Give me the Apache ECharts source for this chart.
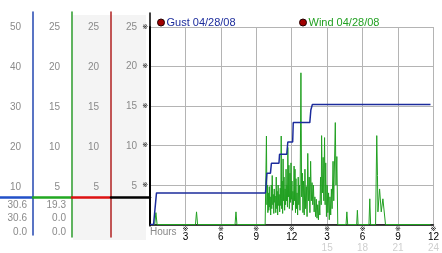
<!DOCTYPE html>
<html><head><meta charset="utf-8">
<script src="https://cdn.jsdelivr.net/npm/echarts@6/dist/echarts.min.js"></script>
<style>html,body{margin:0;padding:0;background:#fff}#c{width:442px;height:253px}</style>
</head><body><div id="c"></div>
<script>
// ---------- data ----------
const gustName = 'Gust 04/28/08';
const windName = 'Wind 04/28/08';
// [hour, mph]
const gust = [[0,0],[0.3,0],[0.55,4.0],[9.78,4.0],[9.85,5.5],[9.9,6.5],[10.2,6.5],[10.28,7.75],[10.92,7.75],[10.97,8.9],[11.58,8.9],[11.67,10.45],[12.08,10.45],[12.13,12.9],[13.53,12.9],[13.62,14.5],[13.75,15.2],[23.75,15.2]];
const wind = [[0,0],[0.4,0],[0.5,1.5],[0.6,0],[3.85,0],[3.94,1.6],[4.03,0],[7.2,0],[7.28,1.6],[7.36,0],
[9.75,0],[9.8,0],[9.86,11.2],[9.9,2.5],[9.94,5.0],[9.98,1.5],[10.02,4.0],[10.06,1.8],[10.1,4.8],[10.14,2.2],[10.18,3.5],[10.22,1.2],[10.27,5.0],[10.31,2.0],[10.35,6.2],[10.4,2.5],[10.44,3.8],[10.48,1.4],[10.52,4.5],[10.56,2.8],[10.6,3.6],[10.65,1.5],[10.69,6.0],[10.73,2.0],[10.77,4.2],[10.81,1.2],[10.85,5.0],[10.9,2.4],[10.94,3.8],[10.98,1.6],[11.03,4.6],[11.07,2.4],[11.11,11.2],[11.15,2.0],[11.19,5.5],[11.23,1.4],[11.27,8.3],[11.31,3.0],[11.35,6.0],[11.4,1.8],[11.44,4.5],[11.48,2.5],[11.52,7.0],[11.56,3.0],[11.6,5.0],[11.64,2.2],[11.67,9.75],[11.72,3.5],[11.76,7.5],[11.8,2.0],[11.85,6.5],[11.9,2.8],[11.94,7.8],[11.98,3.2],[12.02,5.5],[12.06,1.8],[12.1,4.2],[12.15,2.5],[12.2,7.4],[12.24,3.0],[12.28,7.0],[12.32,1.5],[12.36,5.8],[12.4,2.0],[12.45,4.0],[12.5,1.2],[12.55,6.0],[12.6,2.5],[12.65,5.0],[12.7,1.8],[12.78,19.2],[12.84,3.5],[12.9,6.5],[12.95,1.5],[13.0,5.5],[13.06,1.2],[13.12,7.0],[13.18,2.0],[13.24,4.8],[13.3,1.0],[13.36,9.0],[13.42,3.0],[13.48,6.0],[13.54,1.5],[13.6,8.0],[13.66,3.0],[13.72,5.3],[13.78,2.5],[13.84,5.0],[13.9,1.6],[13.96,3.5],[14.02,1.0],[14.08,3.2],[14.14,0.8],[14.2,2.5],[14.26,0.6],[14.32,3.0],[14.38,1.2],[14.44,6.0],[14.5,2.5],[14.53,11.25],[14.6,4.0],[14.66,8.5],[14.72,3.0],[14.78,11.0],[14.83,2.5],[14.88,7.8],[14.94,1.0],[15.0,5.0],[15.06,1.5],[15.12,4.0],[15.18,0.6],[15.24,3.5],[15.3,1.2],[15.36,4.5],[15.42,2.0],[15.5,8.0],[15.56,3.0],[15.69,12.9],[15.75,5.0],[15.82,8.6],[15.9,0],
[16.6,0],[16.67,1.6],[16.74,0],[17.5,0],[17.56,1.8],[17.62,0],[18.54,0],[18.61,3.25],[18.68,0],[19.1,0],[19.2,11.25],[19.26,6.2],[19.3,1.6],[19.44,4.5],[19.58,1.6],[19.72,3.25],[19.86,3.25],[19.94,0],[23.75,0]];
const xTopLabels = ['', '3', '6', '9', '12', '3', '6', '9', '12'];
const xBottomLabels = ['', '', '', '', '', '15', '18', '21', '24'];
const col1Ticks = [10, 20, 30, 40, 50];
const colTicks = [5, 10, 15, 20, 25];
const stat1 = ['30.6', '30.6', '0.0'];
const stat2 = ['19.3', '0.0', '0.0'];

// ---------- chart ----------
const FONT = 'Liberation Sans, Arial, sans-serif';
const chart = echarts.init(document.getElementById('c'), null, {renderer: 'canvas'});

function colAxis(gridIndex, color, ticks, min, max, margin) {
  return {
    gridIndex, type: 'value', position: 'right', min, max,
    axisLine: {show: true, onZero: false, lineStyle: {color, width: 1.5}},
    axisTick: {show: false}, splitLine: {show: false},
    axisLabel: {show: true, inside: true, margin, customValues: ticks,
      color: '#8a8a8a', fontSize: 10, fontFamily: FONT}
  };
}
function sepAxis(gridIndex, color, offset) {
  return {
    gridIndex, type: 'value', min: 0, max: 1, position: 'bottom', offset,
    axisLine: {show: true, onZero: false, lineStyle: {color, width: 2.5}},
    axisTick: {show: false}, axisLabel: {show: false}, splitLine: {show: false}
  };
}

const statText = [];
stat1.forEach((t, i) => statText.push({type: 'text', x: 27, y: 205 + i * 13.7,
  style: {text: t, align: 'right', verticalAlign: 'middle', fill: '#8a8a8a', font: '10px ' + FONT}}));
stat2.forEach((t, i) => statText.push({type: 'text', x: 66, y: 205 + i * 13.7,
  style: {text: t, align: 'right', verticalAlign: 'middle', fill: '#8a8a8a', font: '10px ' + FONT}}));

const option = {
  animation: false,
  backgroundColor: '#fff',
  legend: [
    {left: 152, top: 12, icon: 'circle', itemWidth: 7, itemHeight: 7, selectedMode: false,
     data: [{name: gustName, itemStyle: {color: '#a00000', borderColor: '#200', borderWidth: 1},
             textStyle: {color: '#1c2c9c'}}],
     textStyle: {fontSize: 11, fontFamily: FONT, padding: [0, 0, 0, -3]}},
    {left: 294, top: 12, icon: 'circle', itemWidth: 7, itemHeight: 7, selectedMode: false,
     data: [{name: windName, itemStyle: {color: '#a00000', borderColor: '#200', borderWidth: 1},
             textStyle: {color: '#22a022'}}],
     textStyle: {fontSize: 11, fontFamily: FONT, padding: [0, 0, 0, -3]}}
  ],
  grid: [
    {left: 150, right: 4, top: 27, bottom: 27},
    {left: 0, width: 33, top: 12, bottom: 18},
    {left: 33, width: 39, top: 12, bottom: 16},
    {left: 72, width: 39, top: 12, bottom: 16},
    {left: 111, width: 39, top: 13, bottom: 27},
    {left: 73, width: 73, top: 15, bottom: 13, show: true, backgroundColor: '#f4f4f4', borderWidth: 0, z: -10}
  ],
  xAxis: [
    {gridIndex: 0, type: 'value', min: 0, max: 24, interval: 3,
     name: 'Hours', nameLocation: 'start', nameGap: -3,
     nameTextStyle: {align: 'left', verticalAlign: 'top', color: '#8a8a8a', fontSize: 10, fontFamily: FONT, padding: [3, 0, 0, 0]},
     axisLine: {show: true, onZero: false, lineStyle: {color: '#000', width: 1.5}},
     axisTick: {show: false},
     splitLine: {show: true, lineStyle: {color: '#b4b4b4', width: 1}},
     axisLabel: {margin: 1, formatter: function (v) {
        const i = Math.round(v / 3);
        if (!xTopLabels[i]) return '';
        let s = '{t|※}\n{a|' + xTopLabels[i] + '}';
        if (xBottomLabels[i]) s += '\n{b|' + xBottomLabels[i] + '}';
        return s;
      },
      rich: {
        t: {fontSize: 7, lineHeight: 7, color: '#000', fontFamily: 'DejaVu Sans'},
        a: {fontSize: 10, lineHeight: 10, color: '#000', fontFamily: FONT},
        b: {fontSize: 10, lineHeight: 11, color: '#cfcfcf', fontFamily: FONT}
      }}},
    sepAxis(1, '#2250c8', -38),
    sepAxis(2, '#22a822', -40),
    sepAxis(3, '#dd1111', -40),
    sepAxis(4, '#000000', -29),
    {gridIndex: 5, type: 'value', show: false}
  ],
  yAxis: [
    {gridIndex: 0, type: 'value', min: 0, max: 25, interval: 5,
     axisLine: {show: true, onZero: false, lineStyle: {color: '#000', width: 2}},
     axisTick: {show: false},
     splitLine: {show: true, lineStyle: {color: '#b4b4b4', width: 1}},
     axisLabel: {margin: 2, fontSize: 7, color: '#000', fontFamily: 'DejaVu Sans',
       formatter: v => v === 0 ? '' : '※'}},
    colAxis(1, '#2246b0', col1Ticks, -2, 53.75, 12),
    colAxis(2, '#2a9a2a', colTicks, -1.25, 26.875, 12),
    colAxis(3, '#b02020', colTicks, -1.25, 26.875, 12),
    colAxis(4, '#000000', colTicks, 0, 26.75, 13),
    {gridIndex: 5, type: 'value', show: false}
  ],
  graphic: statText,
  series: [
    {name: windName, type: 'line', xAxisIndex: 0, yAxisIndex: 0, data: wind,
     showSymbol: false, symbol: 'none', color: '#22a022',
     lineStyle: {color: '#22a022', width: 1}, z: 3},
    {name: gustName, type: 'line', xAxisIndex: 0, yAxisIndex: 0, data: gust,
     showSymbol: false, symbol: 'none', color: '#1c2c9c',
     lineStyle: {color: '#1c2c9c', width: 1.5}, z: 4}
  ]
};
chart.setOption(option);
</script>
</body></html>
